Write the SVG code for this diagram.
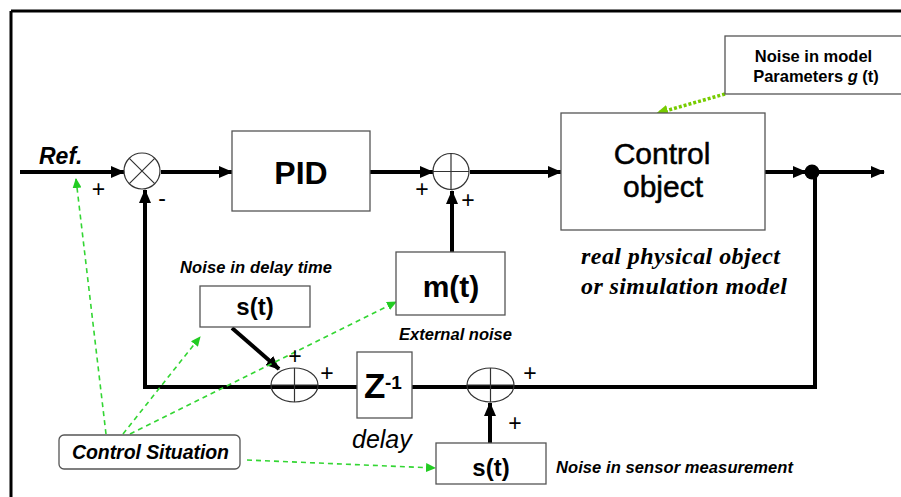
<svg xmlns="http://www.w3.org/2000/svg" width="901" height="497" viewBox="0 0 901 497">
<style>
.box{fill:#fff;stroke:#555;stroke-width:1.3}
.wire{fill:none;stroke:#000;stroke-width:4}
.thin{fill:none;stroke:#333;stroke-width:1.2}
.g{fill:none;stroke:#33d633;stroke-width:1.6;stroke-dasharray:5,4}
.yg{fill:none;stroke:#77cc00;stroke-width:3.5;stroke-dasharray:3,2}
text{font-family:"Liberation Sans",Arial,sans-serif;fill:#000}
text.serif{font-family:"Liberation Serif","Times New Roman",serif;font-weight:bold;font-style:italic;font-size:24px}
.b{font-weight:bold}
.bi{font-weight:bold;font-style:italic}
.pm{font-size:23px;text-anchor:middle}
.c{text-anchor:middle}
</style>
<defs>
<marker id="ah" markerUnits="userSpaceOnUse" markerWidth="14" markerHeight="12" refX="13" refY="6" orient="auto">
<path d="M0,0 L14,6 L0,12 z" fill="#000"/>
</marker>
<marker id="ga" markerUnits="userSpaceOnUse" markerWidth="10" markerHeight="9" refX="9" refY="4.5" orient="auto">
<path d="M0,0 L10,4.5 L0,9 z" fill="#22cc22"/>
</marker>
<marker id="ya" markerUnits="userSpaceOnUse" markerWidth="12" markerHeight="11" refX="10" refY="5.5" orient="auto">
<path d="M0,0 L12,5.5 L0,11 z" fill="#77cc00"/>
</marker>
</defs>

<g id="frame">
<path d="M11,11 H901 M11,11 V497" fill="none" stroke="#000" stroke-width="3"/>
</g>

<g id="connectors">
<path class="wire" d="M20,172 H124" marker-end="url(#ah)"/>
<path class="wire" d="M161,172 H232" marker-end="url(#ah)"/>
<path class="wire" d="M370,172 H433" marker-end="url(#ah)"/>
<path class="wire" d="M470,172 H561" marker-end="url(#ah)"/>
<path class="wire" d="M765,172 H806" marker-end="url(#ah)"/>
<path class="wire" d="M812,172 H884" marker-end="url(#ah)"/>
<path class="wire" d="M815,172 V387 H145 V190" marker-end="url(#ah)"/>
<path class="wire" d="M452,252 V191" marker-end="url(#ah)"/>
<path class="wire" d="M490,443 V403" marker-end="url(#ah)"/>
<path class="wire" d="M232,328 L279,369" marker-end="url(#ah)"/>
<path class="g" d="M106,434 L76,179" marker-end="url(#ga)"/>
<path class="g" d="M123,434 L200,337" marker-end="url(#ga)"/>
<path class="g" d="M130,434 L396,302" marker-end="url(#ga)"/>
<path class="g" d="M247,460 L435,468" marker-end="url(#ga)"/>
<path class="yg" d="M725,94 L658,113" marker-end="url(#ya)"/>
</g>

<g id="ref">
<text class="bi" x="39" y="164" font-size="23">Ref.</text>
<text class="pm" x="98.5" y="197">+</text>
</g>

<g id="sum1">
<circle cx="142" cy="171" r="18" class="thin" fill="#fff"/>
<path d="M129.3,158.3 L154.7,183.7 M154.7,158.3 L129.3,183.7" class="thin"/>
<text x="162" y="206" font-size="23" class="c">-</text>
</g>

<g id="pid">
<rect class="box" x="232" y="131" width="138" height="80"/>
<text class="b c" x="301" y="184" font-size="32">PID</text>
</g>

<g id="sum2">
<circle cx="451" cy="171.5" r="18" class="thin" fill="#fff"/>
<path d="M433,171.5 H469 M451,153.5 V189.5" class="thin"/>
<text class="pm" x="422" y="197">+</text>
<text class="pm" x="468" y="208">+</text>
</g>

<g id="mt">
<rect class="box" x="396" y="252" width="109" height="63"/>
<text class="b c" x="451" y="297" font-size="30">m(t)</text>
<text class="bi" x="399" y="340" font-size="16.5" textLength="113">External noise</text>
</g>

<g id="control">
<rect class="box" x="561" y="113" width="204" height="117"/>
<text class="c" x="662" y="164" font-size="30" stroke="#000" stroke-width="0.5">Control</text>
<text class="c" x="663" y="197" font-size="30" stroke="#000" stroke-width="0.5">object</text>
<text class="serif" x="581" y="264" textLength="199">real physical object</text>
<text class="serif" x="581" y="294" textLength="206">or simulation model</text>
</g>

<g id="node-dot">
<circle cx="812" cy="172" r="7.5" fill="#000"/>
</g>

<g id="noise-model">
<rect class="box" x="725" y="36" width="190" height="58"/>
<text class="b c" x="813.5" y="62" font-size="16.5">Noise in model</text>
<text class="b c" x="816" y="82" font-size="16.5">Parameters <tspan font-style="italic">g</tspan> (t)</text>
</g>

<g id="st-delay">
<text class="bi" x="180" y="273" font-size="16.5" textLength="152">Noise in delay time</text>
<rect class="box" x="200" y="286" width="110" height="41"/>
<text class="b c" x="255" y="315" font-size="24">s(t)</text>
</g>

<g id="sum3">
<ellipse cx="294.5" cy="385" rx="23.5" ry="17" class="thin" fill="#fff"/>
<path d="M271,385 H318 M294.5,368 V402" class="thin"/>
<text class="pm" x="295" y="364">+</text>
<text class="pm" x="327" y="381">+</text>
</g>

<g id="z">
<rect class="box" x="357" y="352" width="55" height="66"/>
<text class="b" x="364" y="398" font-size="35">Z</text>
<text class="b" x="385" y="389" font-size="19">-1</text>
<text x="352" y="448" font-size="25" font-style="italic" fill="#222">delay</text>
</g>

<g id="sum4">
<ellipse cx="490.5" cy="385" rx="23.5" ry="17" class="thin" fill="#fff"/>
<path d="M467,385 H514 M490.5,368 V402" class="thin"/>
<text class="pm" x="530" y="381">+</text>
<text class="pm" x="515" y="431">+</text>
</g>

<g id="st-sensor">
<rect class="box" x="436" y="443" width="110" height="41"/>
<text class="b c" x="491" y="476" font-size="24">s(t)</text>
<text class="bi" x="556" y="473" font-size="16.5" textLength="237">Noise in sensor measurement</text>
</g>

<g id="situation">
<rect class="box" x="59" y="435" width="181" height="34" rx="5"/>
<text class="bi" x="72" y="459" font-size="19.5" textLength="157">Control Situation</text>
</g>
</svg>
